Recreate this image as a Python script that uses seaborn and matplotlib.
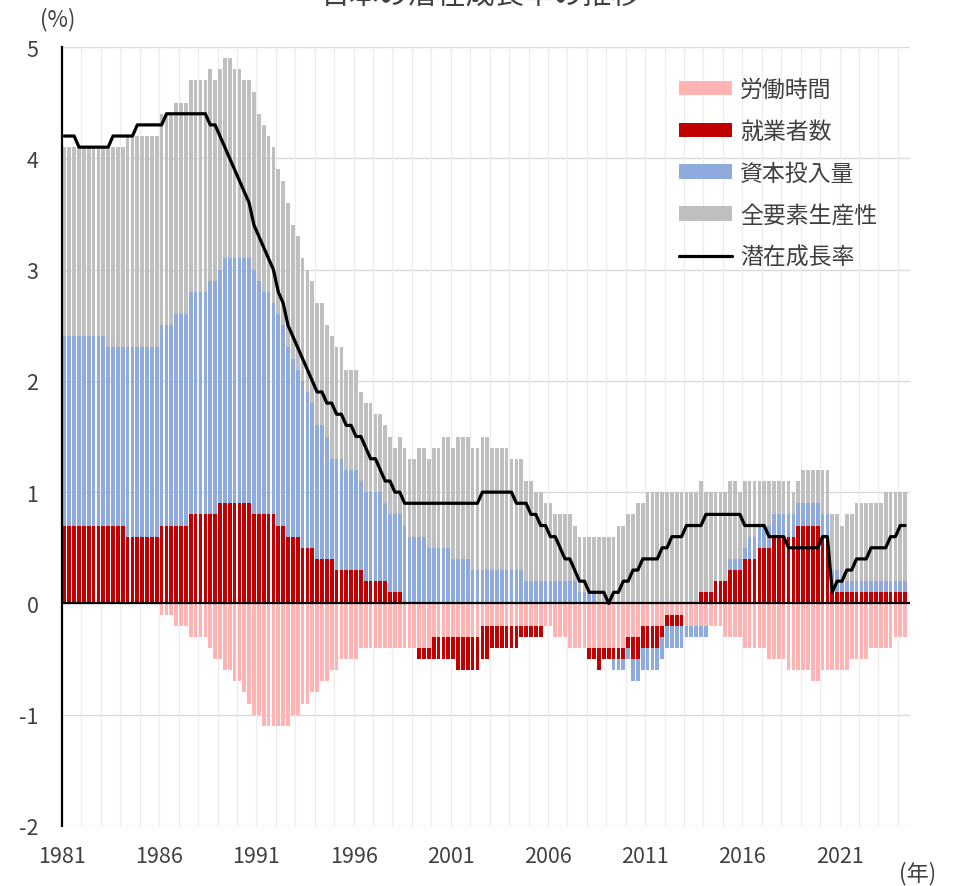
import numpy as np
import pandas as pd
import matplotlib
matplotlib.use("Agg")
import matplotlib.pyplot as plt
import seaborn as sns
from matplotlib.patches import Patch
from matplotlib.lines import Line2D

# quarterly contributions, 1981Q1 - 2024Q2 (one row = one year)
hours = [
    0, 0, 0, 0,
    0, 0, 0, 0,
    0, 0, 0, 0,
    0, 0, 0, 0,
    0, 0, 0, 0,
    -0.1, -0.1, -0.1, -0.2,
    -0.2, -0.2, -0.3, -0.3,
    -0.3, -0.3, -0.4, -0.5,
    -0.5, -0.6, -0.6, -0.7,
    -0.7, -0.8, -0.9, -1.0,
    -1.0, -1.1, -1.1, -1.1,
    -1.1, -1.1, -1.1, -1.0,
    -1.0, -0.9, -0.9, -0.8,
    -0.8, -0.7, -0.7, -0.6,
    -0.6, -0.5, -0.5, -0.5,
    -0.5, -0.4, -0.4, -0.4,
    -0.4, -0.4, -0.4, -0.4,
    -0.4, -0.4, -0.4, -0.4,
    -0.4, -0.4, -0.4, -0.4,
    -0.3, -0.3, -0.3, -0.3,
    -0.3, -0.3, -0.3, -0.3,
    -0.3, -0.3, -0.2, -0.2,
    -0.2, -0.2, -0.2, -0.2,
    -0.2, -0.2, -0.2, -0.2,
    -0.2, -0.2, -0.2, -0.2,
    -0.2, -0.3, -0.3, -0.3,
    -0.4, -0.4, -0.4, -0.4,
    -0.4, -0.4, -0.4, -0.4,
    -0.4, -0.4, -0.4, -0.4,
    -0.3, -0.3, -0.3, -0.2,
    -0.2, -0.2, -0.2, -0.2,
    -0.1, -0.1, -0.1, -0.1,
    -0.2, -0.2, -0.2, -0.2,
    -0.2, -0.2, -0.2, -0.2,
    -0.3, -0.3, -0.3, -0.3,
    -0.4, -0.4, -0.4, -0.4,
    -0.4, -0.5, -0.5, -0.5,
    -0.5, -0.6, -0.6, -0.6,
    -0.6, -0.6, -0.7, -0.7,
    -0.6, -0.6, -0.6, -0.6,
    -0.6, -0.6, -0.5, -0.5,
    -0.5, -0.5, -0.4, -0.4,
    -0.4, -0.4, -0.4, -0.3,
    -0.3, -0.3,
]

employment = [
    0.7, 0.7, 0.7, 0.7,
    0.7, 0.7, 0.7, 0.7,
    0.7, 0.7, 0.7, 0.7,
    0.7, 0.6, 0.6, 0.6,
    0.6, 0.6, 0.6, 0.6,
    0.7, 0.7, 0.7, 0.7,
    0.7, 0.7, 0.8, 0.8,
    0.8, 0.8, 0.8, 0.8,
    0.9, 0.9, 0.9, 0.9,
    0.9, 0.9, 0.9, 0.8,
    0.8, 0.8, 0.8, 0.8,
    0.7, 0.7, 0.6, 0.6,
    0.6, 0.5, 0.5, 0.5,
    0.4, 0.4, 0.4, 0.4,
    0.3, 0.3, 0.3, 0.3,
    0.3, 0.3, 0.2, 0.2,
    0.2, 0.2, 0.2, 0.1,
    0.1, 0.1, 0.0, 0.0,
    0.0, -0.1, -0.1, -0.1,
    -0.2, -0.2, -0.2, -0.2,
    -0.2, -0.3, -0.3, -0.3,
    -0.3, -0.3, -0.3, -0.3,
    -0.2, -0.2, -0.2, -0.2,
    -0.2, -0.2, -0.1, -0.1,
    -0.1, -0.1, -0.1, 0.0,
    0.0, 0.0, 0.0, 0.0,
    0.0, 0.0, 0.0, 0.0,
    -0.1, -0.1, -0.2, -0.1,
    -0.1, -0.1, -0.1, -0.1,
    -0.1, -0.2, -0.2, -0.2,
    -0.2, -0.2, -0.2, -0.1,
    -0.1, -0.1, -0.1, -0.1,
    0.0, 0.0, 0.0, 0.1,
    0.1, 0.1, 0.2, 0.2,
    0.2, 0.3, 0.3, 0.3,
    0.4, 0.4, 0.4, 0.5,
    0.5, 0.5, 0.6, 0.6,
    0.6, 0.6, 0.6, 0.7,
    0.7, 0.7, 0.7, 0.7,
    0.6, 0.6, 0.1, 0.1,
    0.1, 0.1, 0.1, 0.1,
    0.1, 0.1, 0.1, 0.1,
    0.1, 0.1, 0.1, 0.1,
    0.1, 0.1,
]

capital = [
    1.7, 1.7, 1.7, 1.7,
    1.7, 1.7, 1.7, 1.7,
    1.7, 1.6, 1.6, 1.6,
    1.6, 1.7, 1.7, 1.7,
    1.7, 1.7, 1.7, 1.7,
    1.8, 1.8, 1.8, 1.9,
    1.9, 1.9, 2.0, 2.0,
    2.0, 2.0, 2.1, 2.1,
    2.1, 2.2, 2.2, 2.2,
    2.2, 2.2, 2.2, 2.2,
    2.1, 2.0, 2.0, 1.9,
    1.9, 1.8, 1.7, 1.6,
    1.5, 1.5, 1.4, 1.3,
    1.2, 1.2, 1.1, 0.9,
    1.0, 1.0, 0.9, 0.9,
    0.9, 0.8, 0.8, 0.8,
    0.8, 0.8, 0.7, 0.7,
    0.7, 0.7, 0.7, 0.6,
    0.6, 0.6, 0.6, 0.5,
    0.5, 0.5, 0.5, 0.5,
    0.4, 0.4, 0.4, 0.4,
    0.3, 0.3, 0.3, 0.3,
    0.3, 0.3, 0.3, 0.3,
    0.3, 0.3, 0.3, 0.2,
    0.2, 0.2, 0.2, 0.2,
    0.2, 0.2, 0.2, 0.2,
    0.2, 0.2, 0.1, 0.1,
    0.1, 0.1, 0.0, 0.0,
    0.0, -0.1, -0.1, -0.1,
    -0.1, -0.2, -0.2, -0.2,
    -0.2, -0.2, -0.2, -0.2,
    -0.2, -0.2, -0.2, -0.2,
    -0.1, -0.1, -0.1, -0.1,
    -0.1, 0.0, 0.0, 0.0,
    0.0, 0.1, 0.1, 0.1,
    0.1, 0.2, 0.2, 0.2,
    0.2, 0.2, 0.2, 0.2,
    0.2, 0.2, 0.2, 0.2,
    0.2, 0.2, 0.2, 0.2,
    0.2, 0.2, 0.2, 0.2,
    0.1, 0.1, 0.1, 0.1,
    0.1, 0.1, 0.1, 0.1,
    0.1, 0.1, 0.1, 0.1,
    0.1, 0.1,
]

tfp = [
    1.7, 1.7, 1.7, 1.7,
    1.7, 1.7, 1.7, 1.7,
    1.7, 1.8, 1.8, 1.8,
    1.8, 1.9, 1.9, 1.9,
    1.9, 1.9, 1.9, 1.9,
    1.9, 1.9, 1.9, 1.9,
    1.9, 1.9, 1.9, 1.9,
    1.9, 1.9, 1.9, 1.8,
    1.8, 1.8, 1.8, 1.7,
    1.7, 1.6, 1.6, 1.6,
    1.5, 1.5, 1.4, 1.4,
    1.3, 1.3, 1.3, 1.2,
    1.2, 1.1, 1.1, 1.1,
    1.1, 1.1, 1.0, 1.1,
    1.0, 1.0, 0.9, 0.9,
    0.9, 0.8, 0.8, 0.8,
    0.7, 0.7, 0.7, 0.7,
    0.6, 0.7, 0.7, 0.7,
    0.7, 0.8, 0.8, 0.8,
    0.9, 0.9, 1.0, 1.0,
    1.0, 1.1, 1.1, 1.1,
    1.1, 1.1, 1.2, 1.2,
    1.1, 1.1, 1.1, 1.1,
    1.0, 1.0, 1.0, 0.9,
    0.9, 0.8, 0.8, 0.7,
    0.7, 0.6, 0.6, 0.6,
    0.6, 0.5, 0.5, 0.5,
    0.5, 0.5, 0.6, 0.6,
    0.6, 0.6, 0.7, 0.7,
    0.8, 0.8, 0.9, 0.9,
    1.0, 1.0, 1.0, 1.0,
    1.0, 1.0, 1.0, 1.0,
    1.0, 1.0, 1.0, 1.0,
    0.9, 0.9, 0.8, 0.8,
    0.8, 0.7, 0.7, 0.6,
    0.6, 0.5, 0.5, 0.4,
    0.4, 0.4, 0.3, 0.3,
    0.3, 0.3, 0.2, 0.2,
    0.3, 0.3, 0.3, 0.3,
    0.4, 0.4, 0.5, 0.5,
    0.5, 0.6, 0.6, 0.7,
    0.7, 0.7, 0.7, 0.7,
    0.7, 0.8, 0.8, 0.8,
    0.8, 0.8,
]

potential = [
    4.2, 4.2, 4.2, 4.1,
    4.1, 4.1, 4.1, 4.1,
    4.1, 4.1, 4.2, 4.2,
    4.2, 4.2, 4.2, 4.3,
    4.3, 4.3, 4.3, 4.3,
    4.3, 4.4, 4.4, 4.4,
    4.4, 4.4, 4.4, 4.4,
    4.4, 4.4, 4.3, 4.3,
    4.2, 4.1, 4.0, 3.9,
    3.8, 3.7, 3.6, 3.4,
    3.3, 3.2, 3.1, 3.0,
    2.8, 2.7, 2.5, 2.4,
    2.3, 2.2, 2.1, 2.0,
    1.9, 1.9, 1.8, 1.8,
    1.7, 1.7, 1.6, 1.6,
    1.5, 1.5, 1.4, 1.3,
    1.3, 1.2, 1.1, 1.1,
    1.0, 1.0, 0.9, 0.9,
    0.9, 0.9, 0.9, 0.9,
    0.9, 0.9, 0.9, 0.9,
    0.9, 0.9, 0.9, 0.9,
    0.9, 0.9, 1.0, 1.0,
    1.0, 1.0, 1.0, 1.0,
    1.0, 0.9, 0.9, 0.9,
    0.8, 0.8, 0.7, 0.7,
    0.6, 0.6, 0.5, 0.4,
    0.4, 0.3, 0.2, 0.2,
    0.1, 0.1, 0.1, 0.1,
    0.0, 0.1, 0.1, 0.2,
    0.2, 0.3, 0.3, 0.4,
    0.4, 0.4, 0.4, 0.5,
    0.5, 0.6, 0.6, 0.6,
    0.7, 0.7, 0.7, 0.7,
    0.8, 0.8, 0.8, 0.8,
    0.8, 0.8, 0.8, 0.8,
    0.7, 0.7, 0.7, 0.7,
    0.7, 0.6, 0.6, 0.6,
    0.6, 0.5, 0.5, 0.5,
    0.5, 0.5, 0.5, 0.5,
    0.6, 0.6, 0.1, 0.2,
    0.2, 0.3, 0.3, 0.4,
    0.4, 0.4, 0.5, 0.5,
    0.5, 0.5, 0.6, 0.6,
    0.7, 0.7,
]

year_labels = ["1981", "1986", "1991", "1996", "2001", "2006", "2011", "2016", "2021"]
series_names = ["労働時間", "就業者数", "資本投入量", "全要素生産性"]
line_name = "潜在成長率"
colors = ["#FFB3B3", "#C00000", "#8FAADC", "#BFBFBF"]

sns.set_style("white")
plt.rcParams["font.family"] = ["Noto Sans CJK JP", "DejaVu Sans"]

df = pd.DataFrame({
    "q": np.arange(len(potential)),
    series_names[0]: hours,
    series_names[1]: employment,
    series_names[2]: capital,
    series_names[3]: tfp,
    line_name: potential,
})

fig = plt.figure(figsize=(9.59, 8.87), dpi=100)
ax = fig.add_axes([62 / 959, 1 - 827 / 887, 848 / 959, 779 / 887])

# stacked bars, positives up and negatives down (Excel style)
pos = np.zeros(len(df))
neg = np.zeros(len(df))
for name, col in zip(series_names, colors):
    v = df[name].values
    base = np.where(v >= 0, pos, neg)
    ax.bar(df["q"], v, bottom=base, width=0.76, color=col, linewidth=0, zorder=2)
    pos = np.where(v >= 0, pos + v, pos)
    neg = np.where(v < 0, neg + v, neg)

sns.lineplot(data=df, x="q", y=line_name, color="black", linewidth=2.3, ax=ax, zorder=5)

ax.set_xlim(-0.5, len(df))
ax.set_ylim(-2, 5)

# grid: horizontal every 1, vertical every year
for yv in range(-2, 6):
    ax.axhline(yv, color="#D9D9D9", linewidth=1, zorder=0)
for xv in np.arange(-0.5, len(df), 4):
    ax.axvline(xv, color="#EDEDED", linewidth=1, zorder=0)
ax.axhline(0, color="black", linewidth=1.6, zorder=4)

for s in ["top", "right", "bottom"]:
    ax.spines[s].set_visible(False)
ax.spines["left"].set_color("black")
ax.spines["left"].set_linewidth(1.6)

ax.set_yticks(range(-2, 6))
ax.set_yticklabels([str(v) for v in range(-2, 6)])
ax.set_xticks(np.arange(-0.5, len(df), 20)[:len(year_labels)])
ax.set_xticklabels(year_labels)
ax.tick_params(axis="both", length=0, labelsize=15.5, colors="#404040")
ax.tick_params(axis="x", pad=14)
ax.tick_params(axis="y", pad=17)
ax.set_xlabel("")
ax.set_ylabel("")

fig.text(58 / 959, 1 - 20 / 887, "(%)", fontsize=16, color="#404040", ha="center", va="center")
fig.text(918 / 959, 1 - 874 / 887, "(年)", fontsize=16, color="#404040", ha="center", va="center")
fig.text(481 / 959, 1.004, "日本の潜在成長率の推移", fontsize=21, color="#404040", ha="center", va="center")

handles = [Patch(facecolor=c, edgecolor="none") for c in colors]
handles.append(Line2D([0], [0], color="black", linewidth=2.3))
leg = ax.legend(handles, series_names + [line_name], loc="upper left",
                bbox_to_anchor=(608 / 848, 1 - 22 / 779), frameon=False, fontsize=16.5,
                handlelength=2.3, handleheight=0.6, handletextpad=0.35, labelspacing=0.82,
                borderaxespad=0)
for t in leg.get_texts():
    t.set_color("#404040")

fig.savefig("out.png", dpi=100)
